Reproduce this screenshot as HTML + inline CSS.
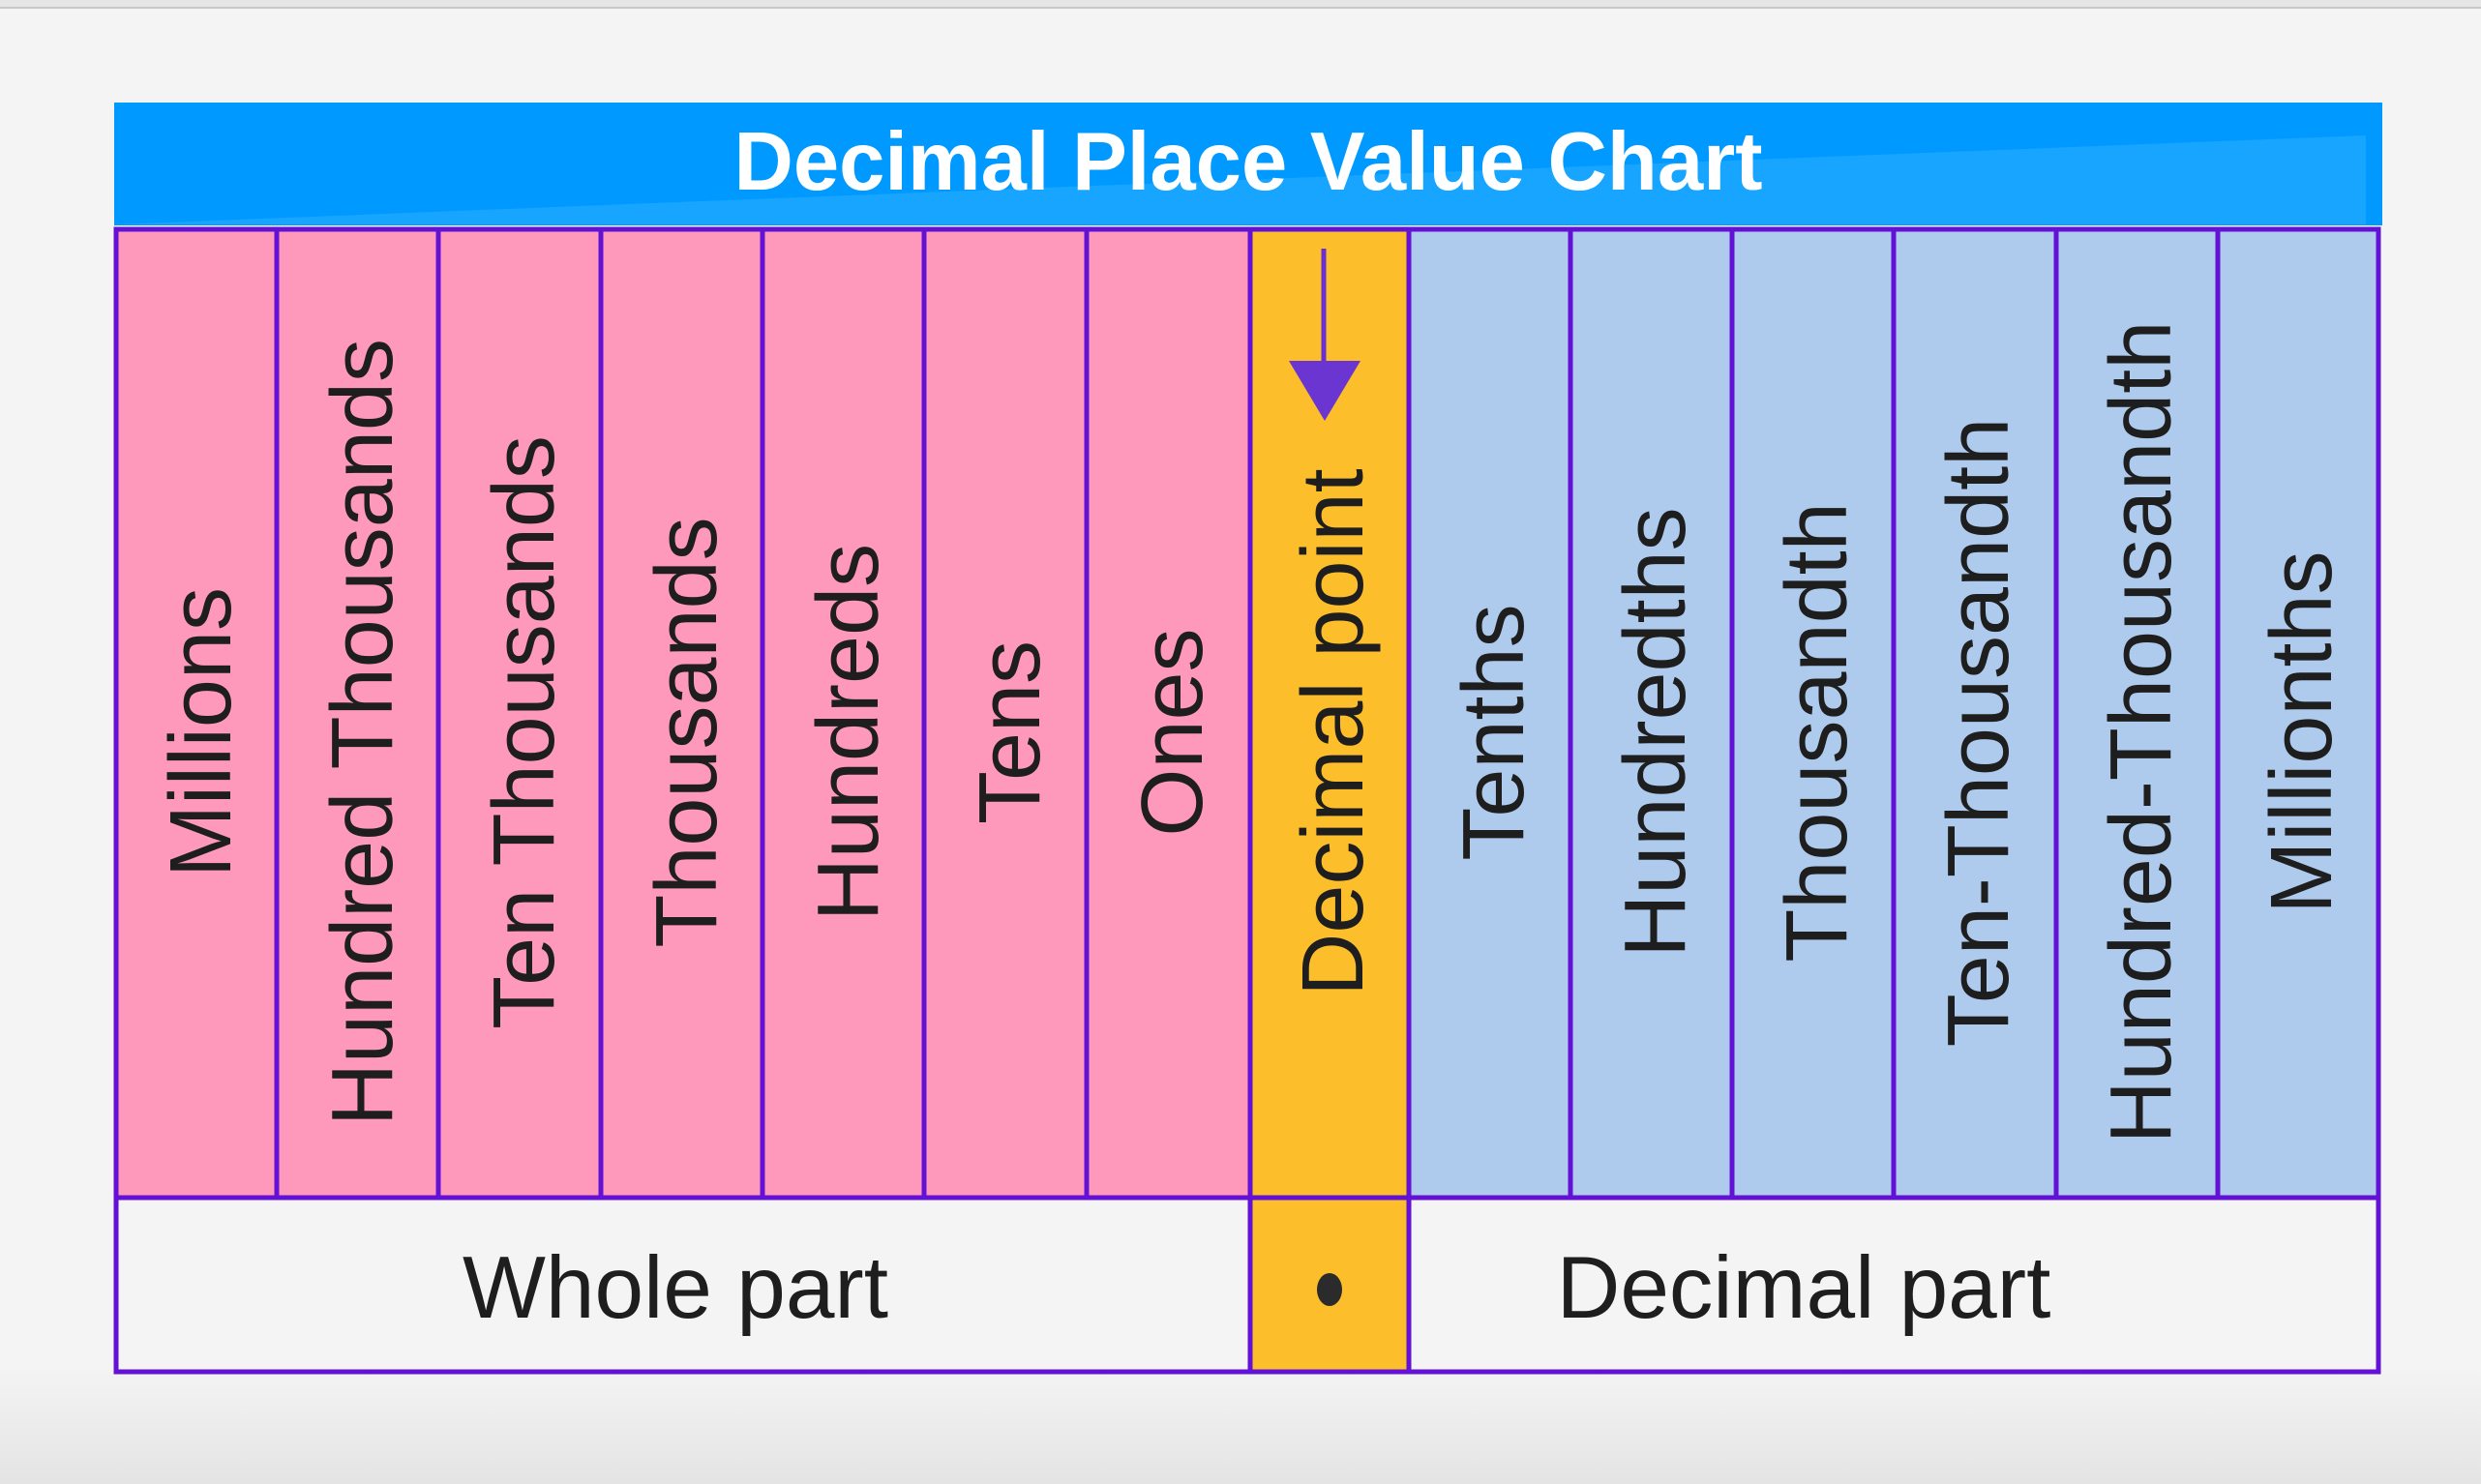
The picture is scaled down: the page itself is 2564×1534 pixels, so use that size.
<!DOCTYPE html>
<html><head><meta charset="utf-8"><style>
html,body{margin:0;padding:0;background:#f4f4f4;}
svg{display:block;}
text{font-family:"Liberation Sans",sans-serif;}
</style></head><body>
<svg width="2564" height="1534" viewBox="0 0 2564 1534" xmlns="http://www.w3.org/2000/svg">
<defs>
<linearGradient id="bg" x1="0" y1="0" x2="0" y2="1">
<stop offset="0" stop-color="#f4f4f4"/><stop offset="0.92" stop-color="#f4f4f4"/><stop offset="1" stop-color="#e4e4e4"/>
</linearGradient>
</defs>
<rect x="0" y="0" width="2564" height="1534" fill="url(#bg)"/>
<rect x="0" y="0" width="2564" height="7" fill="#e6e6e6"/>
<rect x="0" y="7" width="2564" height="2" fill="#c8c8c8"/>
<rect x="118" y="106" width="2344" height="127" fill="#0099ff"/>
<polygon points="118,232 2445,140 2445,232" fill="#17a5ff"/>
<text x="1290" y="196" font-size="85" font-weight="bold" fill="#ffffff" text-anchor="middle">Decimal Place Value Chart</text>
<g stroke="#6411d6" stroke-width="5">
<rect x="120" y="237" width="1172" height="1001" fill="#ff99bb"/>
<rect x="1292" y="237" width="164" height="1001" fill="#fdbe2b"/>
<rect x="1456" y="237" width="1002" height="1001" fill="#aecbee"/>
<line x1="286" y1="237" x2="286" y2="1238"/>
<line x1="453" y1="237" x2="453" y2="1238"/>
<line x1="621" y1="237" x2="621" y2="1238"/>
<line x1="788" y1="237" x2="788" y2="1238"/>
<line x1="955" y1="237" x2="955" y2="1238"/>
<line x1="1123" y1="237" x2="1123" y2="1238"/>
<line x1="1623" y1="237" x2="1623" y2="1238"/>
<line x1="1790" y1="237" x2="1790" y2="1238"/>
<line x1="1957" y1="237" x2="1957" y2="1238"/>
<line x1="2125" y1="237" x2="2125" y2="1238"/>
<line x1="2292" y1="237" x2="2292" y2="1238"/>
<rect x="120" y="1238" width="1172" height="180" fill="#f4f4f4"/>
<rect x="1292" y="1238" width="164" height="180" fill="#fdbe2b"/>
<rect x="1456" y="1238" width="1002" height="180" fill="#f4f4f4"/>
</g>
<line x1="1368" y1="257" x2="1368" y2="375" stroke="#6a2fd0" stroke-width="5"/>
<polygon points="1332,373 1406,373 1369,435" fill="#6a35d0"/>
<g font-size="90" fill="#1e1e1e" text-anchor="middle">
<text transform="translate(206,757) rotate(-90)" dy="32">Millions</text>
<text transform="translate(373,757) rotate(-90)" dy="32">Hundred Thousands</text>
<text transform="translate(540,757) rotate(-90)" dy="32">Ten Thousands</text>
<text transform="translate(708,757) rotate(-90)" dy="32">Thousands</text>
<text transform="translate(875,757) rotate(-90)" dy="32">Hundreds</text>
<text transform="translate(1042,757) rotate(-90)" dy="32">Tens</text>
<text transform="translate(1210,757) rotate(-90)" dy="32">Ones</text>
<text transform="translate(1376,757) rotate(-90)" dy="32">Decimal point</text>
<text transform="translate(1542,757) rotate(-90)" dy="32">Tenths</text>
<text transform="translate(1709,757) rotate(-90)" dy="32">Hundredths</text>
<text transform="translate(1876,757) rotate(-90)" dy="32">Thousandth</text>
<text transform="translate(2043,757) rotate(-90)" dy="32">Ten-Thousandth</text>
<text transform="translate(2211,757) rotate(-90)" dy="32">Hundred-Thousandth</text>
<text transform="translate(2377,757) rotate(-90)" dy="32">Millionths</text>
<text x="698" y="1362" font-size="91">Whole part</text>
<text x="1864" y="1362" font-size="91">Decimal part</text>
</g>
<ellipse cx="1374" cy="1333" rx="13" ry="17" fill="#2b2b2b"/>
</svg>
</body></html>
